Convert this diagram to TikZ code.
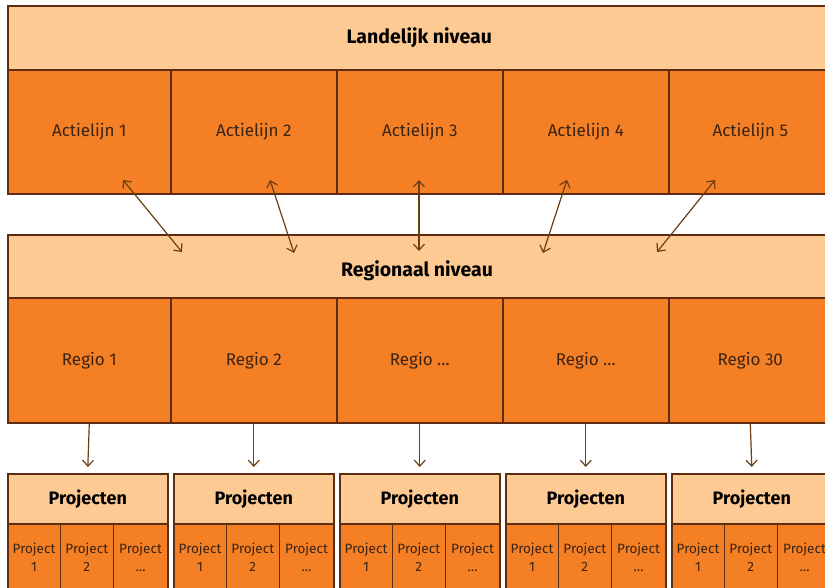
\documentclass[tikz,border=0pt]{standalone}
\usepackage{fontspec}
\setmainfont{Fira Sans}
\usetikzlibrary{arrows.meta}
\definecolor{peach}{HTML}{FDCA93}
\definecolor{orng}{HTML}{F47F24}
\definecolor{edge}{HTML}{5E2C10}
\definecolor{arr}{HTML}{6B3F12}
\definecolor{txt}{HTML}{3A2415}
\tikzset{
  bar/.style={draw=edge, line width=1.6pt, fill=peach, anchor=north west, inner sep=0pt, font=\bfseries\fontsize{19.5}{22}\selectfont, text=black},
  bartext/.style={inner sep=0pt, font=\bfseries\fontsize{19.5}{22}\selectfont, text=black},
  cell/.style={draw=edge, line width=1.6pt, fill=orng, anchor=north west, inner sep=0pt, font=\fontsize{17}{19}\selectfont, text=txt},
  pcell/.style={draw=edge, line width=1.6pt, fill=orng, anchor=north west, inner sep=0pt, align=center, font=\fontsize{13.5}{17.5}\selectfont, text=txt},
  phead/.style={draw=edge, line width=1.6pt, fill=peach, anchor=north west, inner sep=0pt, font=\bfseries\fontsize{18}{20}\selectfont, text=black},
  dbl/.style={draw=arr, line width=1.2pt, {Straight Barb[length=6pt,width=11pt]}-{Straight Barb[length=6pt,width=11pt]}},
  down/.style={draw=arr, line width=1.2pt, -{Straight Barb[length=6pt,width=11pt]}}
}
\begin{document}
\begin{tikzpicture}[x=1pt,y=-1pt]
\useasboundingbox[fill=white] (0,0) rectangle (825,587);
% national level
\node[bar, minimum width=823pt, minimum height=64pt] (land) at (7,5) {Landelijk niveau};
\node[cell, minimum width=163pt, minimum height=124pt] (a1) at (7,69) {Actielijn 1};
\node[cell, minimum width=166pt, minimum height=124pt] (a2) at (170,69) {Actielijn 2};
\node[cell, minimum width=166pt, minimum height=124pt] (a3) at (336,69) {Actielijn 3};
\node[cell, minimum width=166pt, minimum height=124pt] (a4) at (502,69) {Actielijn 4};
\node[cell, minimum width=163pt, minimum height=124pt] (a5) at (668,69) {Actielijn 5};
% regional level
\node[bar, minimum width=823pt, minimum height=63pt] (reg) at (7,234) {};
\node[bartext] (regt) at (417,271) {Regionaal niveau};
\node[cell, minimum width=163pt, minimum height=125pt] (r1) at (7,297) {Regio 1};
\node[cell, minimum width=166pt, minimum height=125pt] (r2) at (170,297) {Regio 2};
\node[cell, minimum width=166pt, minimum height=125pt] (r3) at (336,297) {Regio \dots};
\node[cell, minimum width=166pt, minimum height=125pt] (r4) at (502,297) {Regio \dots};
\node[cell, minimum width=163pt, minimum height=125pt] (r5) at (668,297) {Regio 30};
% arrow end points
\coordinate (t1) at (123,180); \coordinate (b1) at (182,252);
\coordinate (t2) at (270,180); \coordinate (b2) at (294,253);
\coordinate (t3) at (419,180); \coordinate (b3) at (419,251);
\coordinate (t4) at (567,180); \coordinate (b4) at (543,253);
\coordinate (t5) at (715,180); \coordinate (b5) at (657,252);
\foreach \i in {1,...,5} { \draw[dbl] (t\i) -- (b\i); }
% project boxes
\foreach \i/\x in {1/7,2/173,3/339,4/505,5/671} {
  \node[phead, minimum width=160pt, minimum height=50pt] (p\i) at (\x,473) {Projecten};
  \node[pcell, minimum width=52.5pt, minimum height=67pt] (p\i a) at (\x,523) {Project\\1};
  \node[pcell, minimum width=53pt, minimum height=67pt] (p\i b) at (\x+52.5,523) {Project\\2};
  \node[pcell, minimum width=54.5pt, minimum height=67pt] (p\i c) at (\x+105.5,523) {Project\\\dots};
  \draw[down] (r\i.south) -- ([yshift=6pt]p\i.north);
}
\end{tikzpicture}
\end{document}
